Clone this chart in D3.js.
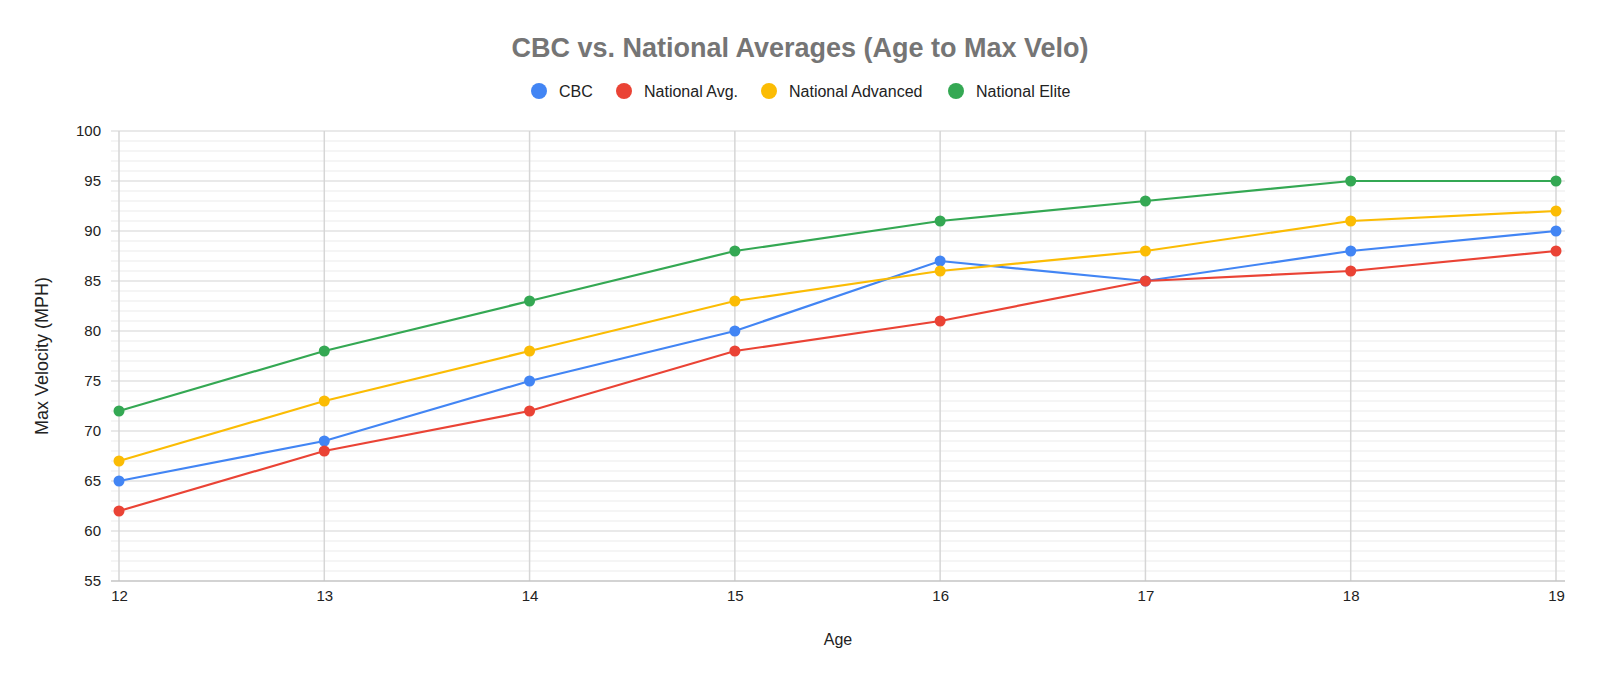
<!DOCTYPE html>
<html>
<head>
<meta charset="utf-8">
<script src="https://cdn.jsdelivr.net/npm/d3@7"></script>
<style>
  body { margin: 0; background: #fff; }
  text { font-family: "Liberation Sans", Arial, sans-serif; }
</style>
</head>
<body>
<script>
const ages = [12, 13, 14, 15, 16, 17, 18, 19];
const cbc = [65, 69, 75, 80, 87, 85, 88, 90];
const natAvg = [62, 68, 72, 78, 81, 85, 86, 88];
const natAdvanced = [67, 73, 78, 83, 86, 88, 91, 92];
const natElite = [72, 78, 83, 88, 91, 93, 95, 95];
const yTicks = [55, 60, 65, 70, 75, 80, 85, 90, 95, 100];

const series = [
  { name: "CBC", values: cbc, color: "#4285f4" },
  { name: "National Avg.", values: natAvg, color: "#ea4335" },
  { name: "National Advanced", values: natAdvanced, color: "#fbbc04" },
  { name: "National Elite", values: natElite, color: "#34a853" },
];

const W = 1600, H = 681;
const plotL = 111, plotR = 1565, plotT = 131, plotB = 581;

const svg = d3.select("body").append("svg")
  .attr("width", W)
  .attr("height", H);

const x = d3.scaleLinear().domain([12, 19]).range([119, 1556]);
const y = d3.scaleLinear().domain([55, 100]).range([plotB, plotT]);

// minor gridlines, every 1 mph
const minor = d3.range(56, 100).filter(v => v % 5 != 0);
svg.append("g")
  .selectAll("line")
  .data(minor)
  .join("line")
  .attr("x1", plotL).attr("x2", plotR)
  .attr("y1", d => y(d)).attr("y2", d => y(d))
  .attr("stroke", "#ebebeb")
  .attr("stroke-width", 1);

// vertical gridlines
svg.append("g")
  .selectAll("line")
  .data(ages)
  .join("line")
  .attr("x1", d => x(d)).attr("x2", d => x(d))
  .attr("y1", plotT).attr("y2", plotB)
  .attr("stroke", "#d6d6d6")
  .attr("stroke-width", 1.5);

// major gridlines
svg.append("g")
  .selectAll("line")
  .data(yTicks)
  .join("line")
  .attr("x1", plotL).attr("x2", plotR)
  .attr("y1", d => y(d)).attr("y2", d => y(d))
  .attr("stroke", d => d == 55 ? "#c4c4c4" : "#d3d3d3")
  .attr("stroke-width", d => d == 55 ? 1.5 : 1.2);

// y axis labels
const yAxis = svg.append("g")
  .attr("transform", `translate(${plotL - 10},0)`)
  .call(d3.axisLeft(y).tickValues(yTicks).tickSize(0).tickPadding(0));
yAxis.select(".domain").remove();
yAxis.selectAll("text")
  .attr("font-size", 15)
  .attr("fill", "#222")
  .style("font-family", '"Liberation Sans", Arial, sans-serif');

// x axis labels
const xAxis = svg.append("g")
  .attr("transform", `translate(0,${plotB + 9})`)
  .call(d3.axisBottom(x).tickValues(ages).tickFormat(d3.format("d")).tickSize(0).tickPadding(0));
xAxis.select(".domain").remove();
xAxis.selectAll("text")
  .attr("font-size", 15)
  .attr("fill", "#222")
  .attr("dy", "0.75em")
  .style("font-family", '"Liberation Sans", Arial, sans-serif');

// lines and points
const line = d3.line()
  .x((d, i) => x(ages[i]))
  .y(d => y(d));

series.forEach(s => {
  svg.append("path")
    .datum(s.values)
    .attr("fill", "none")
    .attr("stroke", s.color)
    .attr("stroke-width", 2.2)
    .attr("d", line);
  svg.append("g")
    .selectAll("circle")
    .data(s.values)
    .join("circle")
    .attr("cx", (d, i) => x(ages[i]))
    .attr("cy", d => y(d))
    .attr("r", 5.5)
    .attr("fill", s.color);
});

// title
svg.append("text")
  .attr("x", 800).attr("y", 57)
  .attr("text-anchor", "middle")
  .attr("font-size", 27)
  .attr("font-weight", "bold")
  .attr("fill", "#757575")
  .text("CBC vs. National Averages (Age to Max Velo)");

// legend
const legendX = [539, 624, 769, 956];
const legend = svg.append("g");
series.forEach((s, i) => {
  legend.append("circle")
    .attr("cx", legendX[i]).attr("cy", 91)
    .attr("r", 8)
    .attr("fill", s.color);
  legend.append("text")
    .attr("x", legendX[i] + 20).attr("y", 97)
    .attr("font-size", 16)
    .attr("fill", "#222")
    .text(s.name);
});

// axis titles
svg.append("text")
  .attr("x", (plotL + plotR) / 2).attr("y", 645)
  .attr("text-anchor", "middle")
  .attr("font-size", 16)
  .attr("fill", "#222")
  .text("Age");

svg.append("text")
  .attr("transform", `translate(48,${(plotT + plotB) / 2}) rotate(-90)`)
  .attr("text-anchor", "middle")
  .attr("font-size", 18)
  .attr("fill", "#222")
  .text("Max Velocity (MPH)");
</script>
</body>
</html>
